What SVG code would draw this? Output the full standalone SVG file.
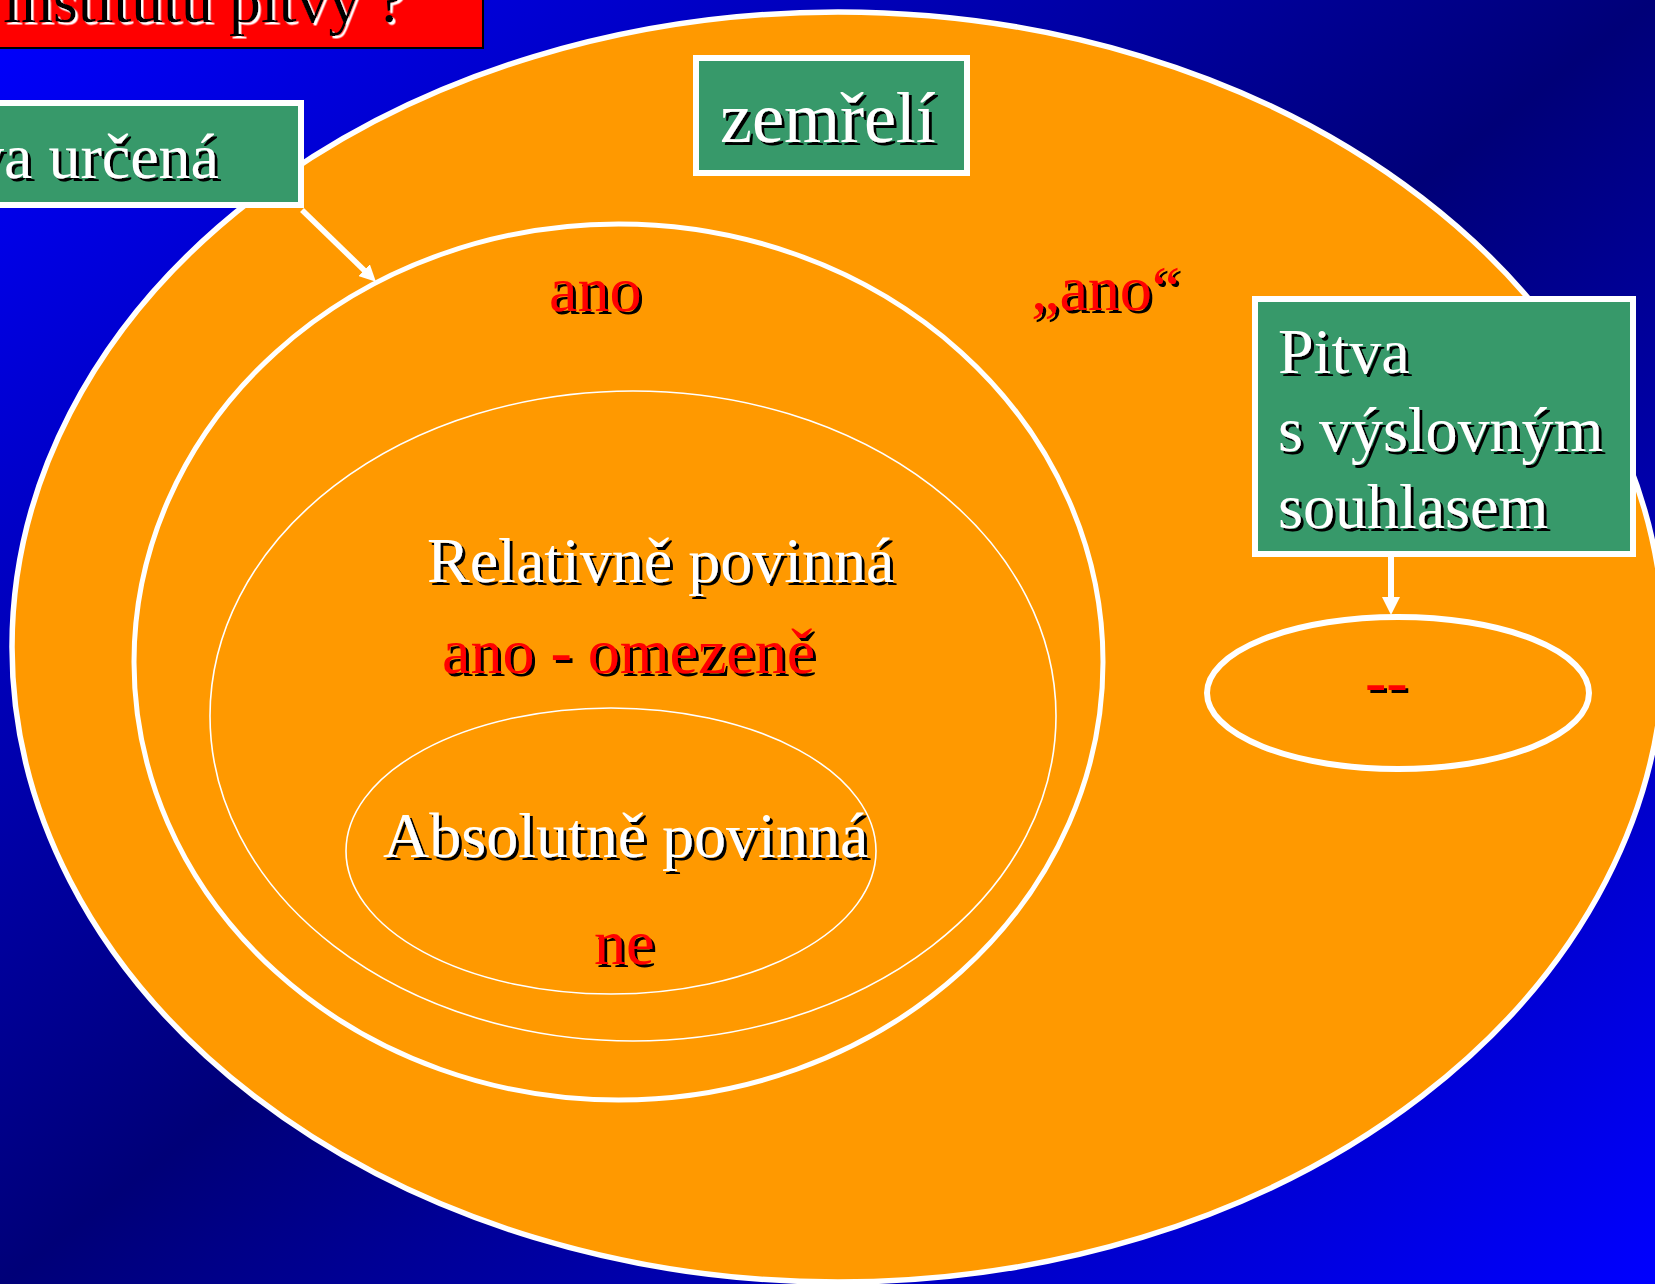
<svg xmlns="http://www.w3.org/2000/svg" width="1655" height="1284" viewBox="0 0 1655 1284">
<style>
text{font-family:"Liberation Serif","Times New Roman",serif;font-size:64px}
.w{fill:#fff;filter:url(#shb)}
.r{fill:#ff0000;filter:url(#shb)}
.box{fill:#37996a;stroke:#fff;stroke-width:6}
.thick{fill:none;stroke:#fff;stroke-width:5}
.thin{fill:none;stroke:#fff;stroke-width:1.6}
.conn{stroke:#fff;stroke-width:6;fill:none;marker-end:url(#ah)}
</style>
<defs>
<linearGradient id="bg" x1="0" y1="0" x2="1" y2="1">
<stop offset="0" stop-color="#0000ff"/>
<stop offset="0.5" stop-color="#000078"/>
<stop offset="1" stop-color="#0000ff"/>
</linearGradient>
<filter id="shb" x="-5%" y="-20%" width="115%" height="150%">
<feDropShadow dx="3" dy="3" stdDeviation="0" flood-color="#000" flood-opacity="1"/>
</filter>
<filter id="shw" x="-5%" y="-20%" width="115%" height="150%">
<feDropShadow dx="2.5" dy="2.5" stdDeviation="0" flood-color="#fff" flood-opacity="1"/>
</filter>
<marker id="ah" viewBox="0 0 10 10" markerWidth="3" markerHeight="3" refX="3.3" refY="5" orient="auto" markerUnits="strokeWidth">
<path d="M0,0 L10,5 L0,10 z" fill="#fff"/>
</marker>
</defs>
<rect x="0" y="0" width="1655" height="1284" fill="url(#bg)"/>

<g id="title">
<rect x="-10" y="-10" width="493" height="58" fill="#ff0000" stroke="#000" stroke-width="2"/>
<text x="405" y="22" text-anchor="end" style="fill:#000;filter:url(#shw)">institutu pitvy ?</text>
</g>

<g id="zemreli-set">
<ellipse cx="838" cy="647" rx="826" ry="635" fill="#ff9900" stroke="#fff" stroke-width="5.5"/>
<text class="r" x="1031" y="310">„ano“</text>
</g>

<g id="pitva-urcena-set">
<ellipse class="thick" cx="618.5" cy="662" rx="484.5" ry="438"/>
<text class="r" x="549" y="311">ano</text>
</g>

<g id="relativne">
<ellipse class="thin" cx="633" cy="716" rx="423" ry="325"/>
<text class="w" x="427" y="582">Relativně povinná</text>
<text class="r" x="442" y="673">ano - omezeně</text>
</g>

<g id="absolutne">
<ellipse class="thin" cx="611" cy="851" rx="265" ry="143"/>
<text class="w" x="383" y="857">Absolutně povinná</text>
<text class="r" x="594" y="964">ne</text>
</g>

<g id="souhlas-set">
<ellipse cx="1398" cy="693" rx="191" ry="76" fill="none" stroke="#fff" stroke-width="6"/>
<text class="r" x="1365" y="703">--</text>
</g>

<g id="zemreli">
<rect class="box" x="696" y="58" width="271" height="115"/>
<text class="w" x="720" y="142" style="font-size:72px">zemřelí</text>
</g>

<g id="pitva-urcena">
<rect class="box" x="-10" y="103" width="311" height="102"/>
<text class="w" x="219" y="178" text-anchor="end">va určená</text>
</g>

<g id="pitva-souhlas">
<rect class="box" x="1255" y="299" width="378" height="255"/>
<text class="w" x="1278" y="373">Pitva</text>
<text class="w" x="1278" y="451">s výslovným</text>
<text class="w" x="1278" y="528">souhlasem</text>
</g>

<g id="connectors">
<line class="conn" x1="302" y1="210" x2="368" y2="274" style="stroke-width:5.5"/>
<line class="conn" x1="1391" y1="557" x2="1391" y2="603"/>
</g>
</svg>
